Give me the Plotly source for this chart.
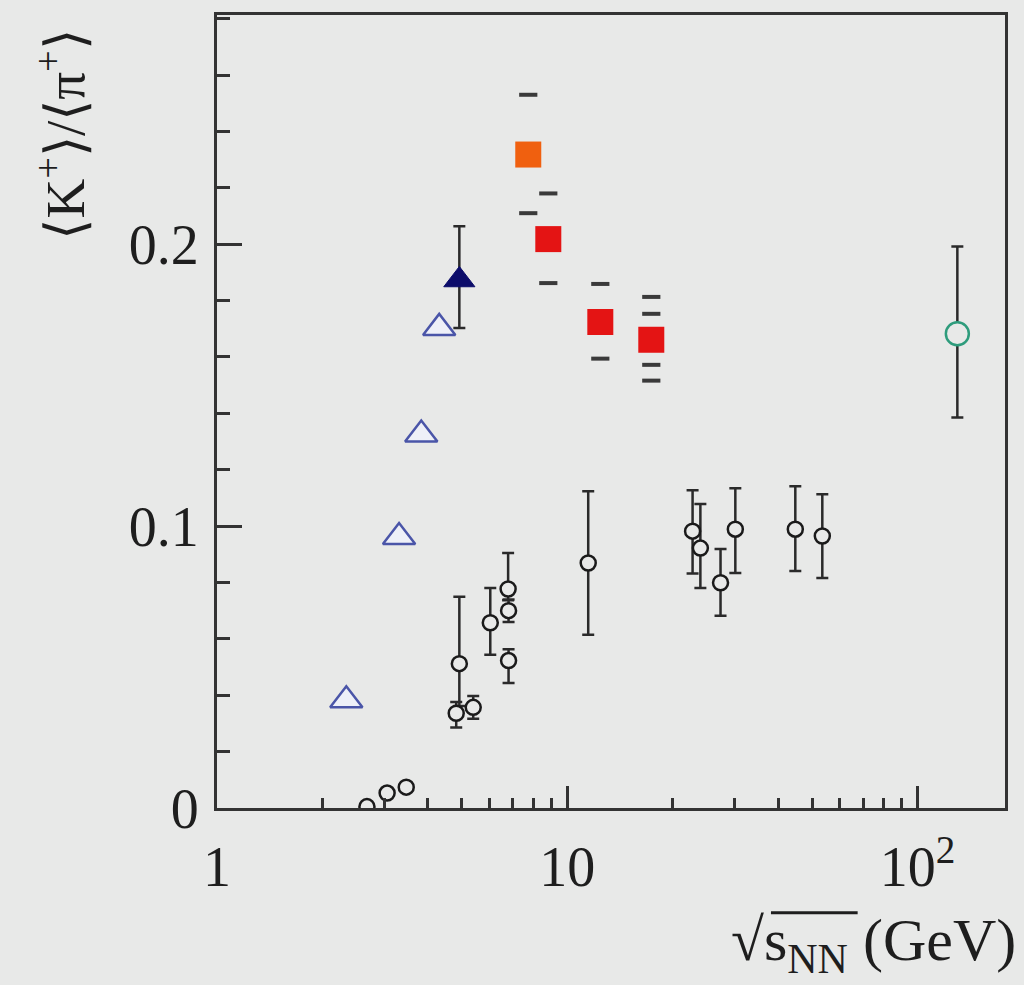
import plotly.graph_objects as go

# ---- data ----
# black open circles (world data, with stat errors)
circ_x = [2.68, 3.06, 3.47, 4.92, 4.82, 5.39, 6.03, 6.78, 6.80, 6.80, 11.48, 22.8, 24.0, 27.4, 30.2, 44.8, 53.5]
circ_y = [0.0005, 0.0053, 0.0074, 0.0512, 0.0336, 0.0357, 0.0657, 0.0777, 0.0700, 0.0523, 0.0869, 0.0982, 0.0922, 0.0799, 0.0989, 0.0989, 0.0965]
circ_up = [0, 0, 0, 0.0237, 0.004, 0.004, 0.0123, 0.0128, 0.004, 0.004, 0.0255, 0.0145, 0.0156, 0.0120, 0.0145, 0.0152, 0.0148]
circ_dn = [0, 0, 0, 0.0150, 0.005, 0.004, 0.0113, 0.0040, 0.004, 0.008, 0.0254, 0.0150, 0.0142, 0.0117, 0.0155, 0.0148, 0.0149]

# open blue triangles
tri_x = [2.34, 3.31, 3.83, 4.31]
tri_y = [0.0382, 0.0961, 0.1325, 0.1703]

# filled navy triangle
ftri_x = [4.92]
ftri_y = [0.1873]
ftri_up = [0.0191]
ftri_dn = [0.0170]

# squares (orange first, then red)
sq_x = [7.74, 8.83, 12.43, 17.38]
sq_y = [0.2318, 0.2018, 0.1724, 0.1661]
sq_colors = ["#f0600f", "#e41414", "#e41414", "#e41414"]
sq_stat_up = [None, None, None, 0.0092]
sq_stat_dn = [None, None, None, 0.0089]
sq_sys_up = [0.0212, 0.0162, 0.0135, 0.0152]
sq_sys_dn = [0.0208, 0.0156, 0.0130, 0.0145]

# green open circle
g_x = [130.0]
g_y = [0.1682]
g_up = [0.0310]
g_dn = [0.0297]

BG = "#e8e9e8"
AX = "#333333"
TXT = "#1e1e1e"
FONT = "Liberation Serif, Times New Roman, serif"

fig = go.Figure()

err_style = dict(type="data", symmetric=False, color="#2a2a2a", thickness=2.5, width=6)

# black circles
fig.add_trace(go.Scatter(
    x=circ_x, y=circ_y, mode="markers",
    error_y=dict(array=circ_up, arrayminus=circ_dn, **err_style),
    marker=dict(symbol="circle", size=15, color=BG, line=dict(color="#1a1a1a", width=2.5)),
    showlegend=False))

# open triangles
fig.add_trace(go.Scatter(
    x=tri_x, y=tri_y, mode="markers",
    marker=dict(symbol="triangle-up", size=28, color="#eef0f8", line=dict(color="#4a55a8", width=2.5)),
    showlegend=False))

# filled triangle
fig.add_trace(go.Scatter(
    x=ftri_x, y=ftri_y, mode="markers",
    error_y=dict(array=ftri_up, arrayminus=ftri_dn, **err_style),
    marker=dict(symbol="triangle-up", size=27, color="#0c0c6a", line=dict(color="#0c0c6a", width=1)),
    showlegend=False))

# green circle
fig.add_trace(go.Scatter(
    x=g_x, y=g_y, mode="markers",
    error_y=dict(array=g_up, arrayminus=g_dn, **err_style),
    marker=dict(symbol="circle", size=23, color=BG, line=dict(color="#2e9c7c", width=2.5)),
    showlegend=False))

# error dashes for squares (derived from the error arrays)
dash_x, dash_y = [], []
for i in range(len(sq_x)):
    for up, dn in ((sq_sys_up[i], sq_sys_dn[i]), (sq_stat_up[i], sq_stat_dn[i])):
        if up is not None:
            dash_x += [sq_x[i], sq_x[i]]
            dash_y += [sq_y[i] + up, sq_y[i] - dn]
fig.add_trace(go.Scatter(
    x=dash_x, y=dash_y, mode="markers",
    marker=dict(symbol="line-ew", size=13, line=dict(color="#3a3a3a", width=4)),
    showlegend=False))

# squares
fig.add_trace(go.Scatter(
    x=sq_x, y=sq_y, mode="markers",
    marker=dict(symbol="square", size=26, color=sq_colors, line=dict(width=0)),
    showlegend=False))

fig.update_layout(
    width=1024, height=985,
    margin=dict(l=217, r=19, t=12, b=177),
    paper_bgcolor=BG, plot_bgcolor=BG,
    font=dict(family=FONT, color=TXT),
)

fig.update_xaxes(
    type="log", range=[0, 2.25],
    tickvals=[1, 10, 100], ticktext=["1", "10", "10<sup>2</sup>"],
    ticks="inside", ticklen=22, tickwidth=2.5, tickcolor=AX,
    minor=dict(tickvals=[2, 3, 4, 5, 6, 7, 8, 9, 20, 30, 40, 50, 60, 70, 80, 90],
               ticks="inside", ticklen=10, tickwidth=2.5, tickcolor=AX),
    showline=True, linecolor=AX, linewidth=3, mirror=True,
    showgrid=False, zeroline=False,
    tickfont=dict(size=56, family=FONT, color=TXT),
    ticklabelstandoff=8,
)

fig.update_yaxes(
    range=[0, 0.2813],
    tick0=0, dtick=0.1,
    ticks="inside", ticklen=25, tickwidth=2.5, tickcolor=AX,
    minor=dict(tick0=0, dtick=0.02, ticks="inside", ticklen=13, tickwidth=2.5, tickcolor=AX),
    showline=True, linecolor=AX, linewidth=3, mirror=True,
    showgrid=False, zeroline=False,
    tickfont=dict(size=56, family=FONT, color=TXT),
    ticklabelstandoff=4,
)

# axis titles as annotations (positioned as in the reference)
fig.add_annotation(
    text="⟨K<sup>+</sup>⟩/⟨π<sup>+</sup>⟩",
    xref="paper", yref="paper", x=-0.197, y=0.849,
    xanchor="center", yanchor="middle", textangle=-90,
    showarrow=False, font=dict(size=55, family=FONT, color=TXT))

fig.add_annotation(
    text="√s<sub>NN</sub> (GeV)",
    xref="paper", yref="paper", x=1.0165, y=-0.172,
    xanchor="right", yanchor="middle",
    showarrow=False, font=dict(size=60, family=FONT, color=TXT))

# overline of the square root
fig.add_shape(type="line", xref="paper", yref="paper",
              x0=0.703, x1=0.813, y0=-0.132, y1=-0.132,
              line=dict(color=TXT, width=3))

fig.write_html("out.html",
               config={"displayModeBar": False},
               post_script="document.body.style.margin='0';document.body.style.background='#e8e9e8';")
